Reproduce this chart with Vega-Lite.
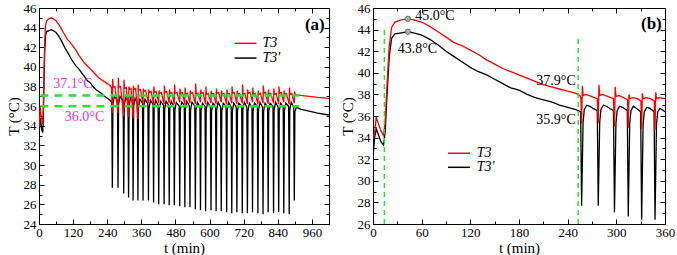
{
  "$schema": "https://vega.github.io/schema/vega-lite/v6.json",
  "padding": {"left": 5, "top": 1, "right": 0, "bottom": 0},
  "spacing": 6,
  "background": "white",
  "config": {
    "font": "Liberation Serif",
    "view": {"stroke": "#000", "strokeWidth": 1},
    "text": {"font": "Liberation Serif"},
    "axis": {
      "labelFont": "Liberation Serif", "labelFontSize": 13, "labelColor": "#000",
      "titleFont": "Liberation Serif", "titleFontSize": 15, "titleFontWeight": "normal", "titleColor": "#000",
      "domainColor": "#000", "tickColor": "#000", "tickWidth": 1, "grid": false,
      "labelFlush": false, "labelOverlap": false, "labelPadding": 8
    }
  },
  "datasets": {
    "la": [
      {"s":"T3'","t":0,"v":32.2},{"s":"T3'","t":2,"v":34.0},{"s":"T3'","t":4,"v":34.8},{"s":"T3'","t":7,"v":34.2},{"s":"T3'","t":10,"v":33.6},{"s":"T3'","t":13,"v":33.3},{"s":"T3'","t":15,"v":34.5},{"s":"T3'","t":17,"v":37.5},{"s":"T3'","t":20,"v":41.5},{"s":"T3'","t":23,"v":43.2},{"s":"T3'","t":27,"v":43.6},{"s":"T3'","t":35,"v":43.7},{"s":"T3'","t":43,"v":43.8},{"s":"T3'","t":50,"v":43.7},{"s":"T3'","t":60,"v":43.5},{"s":"T3'","t":70,"v":43.1},{"s":"T3'","t":80,"v":42.6},{"s":"T3'","t":90,"v":42.0},{"s":"T3'","t":100,"v":41.5},{"s":"T3'","t":110,"v":41.0},{"s":"T3'","t":120,"v":40.5},{"s":"T3'","t":130,"v":40.1},{"s":"T3'","t":140,"v":39.8},{"s":"T3'","t":150,"v":39.4},{"s":"T3'","t":160,"v":39.0},{"s":"T3'","t":170,"v":38.6},{"s":"T3'","t":180,"v":38.4},{"s":"T3'","t":190,"v":38.0},{"s":"T3'","t":200,"v":37.7},{"s":"T3'","t":210,"v":37.5},{"s":"T3'","t":220,"v":37.3},{"s":"T3'","t":230,"v":37.0},{"s":"T3'","t":240,"v":36.8},{"s":"T3'","t":250,"v":36.6},{"s":"T3'","t":255,"v":36.4},
      {"s":"T3'","t":256,"v":36.4},{"s":"T3'","t":258,"v":27.7},{"s":"T3'","t":260,"v":36.2},{"s":"T3'","t":265,"v":37.0},
      {"s":"T3'","t":276,"v":36.6},{"s":"T3'","t":278,"v":27.7},{"s":"T3'","t":280,"v":36.2},{"s":"T3'","t":285,"v":37.0},
      {"s":"T3'","t":296,"v":36.5},{"s":"T3'","t":298,"v":27.1},{"s":"T3'","t":300,"v":36.1},{"s":"T3'","t":305,"v":36.9},
      {"s":"T3'","t":313,"v":36.5},{"s":"T3'","t":315,"v":26.7},{"s":"T3'","t":317,"v":36.1},{"s":"T3'","t":322,"v":36.9},
      {"s":"T3'","t":329,"v":36.4},{"s":"T3'","t":331,"v":26.4},{"s":"T3'","t":333,"v":36.0},{"s":"T3'","t":338,"v":36.8},
      {"s":"T3'","t":346,"v":36.3},{"s":"T3'","t":348,"v":26.4},{"s":"T3'","t":350,"v":35.9},{"s":"T3'","t":355,"v":36.7},
      {"s":"T3'","t":364,"v":36.3},{"s":"T3'","t":366,"v":26.4},{"s":"T3'","t":368,"v":35.9},{"s":"T3'","t":373,"v":36.7},
      {"s":"T3'","t":383,"v":36.2},{"s":"T3'","t":385,"v":26.4},{"s":"T3'","t":387,"v":35.8},{"s":"T3'","t":392,"v":36.6},
      {"s":"T3'","t":401,"v":36.2},{"s":"T3'","t":403,"v":26.2},{"s":"T3'","t":405,"v":35.8},{"s":"T3'","t":410,"v":36.6},
      {"s":"T3'","t":419,"v":36.1},{"s":"T3'","t":421,"v":26.0},{"s":"T3'","t":423,"v":35.7},{"s":"T3'","t":428,"v":36.5},
      {"s":"T3'","t":438,"v":36.1},{"s":"T3'","t":440,"v":26.0},{"s":"T3'","t":442,"v":35.7},{"s":"T3'","t":447,"v":36.5},
      {"s":"T3'","t":456,"v":36.1},{"s":"T3'","t":458,"v":25.9},{"s":"T3'","t":460,"v":35.7},{"s":"T3'","t":465,"v":36.5},
      {"s":"T3'","t":474,"v":36.0},{"s":"T3'","t":476,"v":25.9},{"s":"T3'","t":478,"v":35.6},{"s":"T3'","t":483,"v":36.4},
      {"s":"T3'","t":493,"v":36.0},{"s":"T3'","t":495,"v":25.8},{"s":"T3'","t":497,"v":35.6},{"s":"T3'","t":502,"v":36.4},
      {"s":"T3'","t":511,"v":36.1},{"s":"T3'","t":513,"v":25.7},{"s":"T3'","t":515,"v":35.7},{"s":"T3'","t":520,"v":36.5},
      {"s":"T3'","t":529,"v":36.0},{"s":"T3'","t":531,"v":25.7},{"s":"T3'","t":533,"v":35.6},{"s":"T3'","t":538,"v":36.4},
      {"s":"T3'","t":548,"v":36.0},{"s":"T3'","t":550,"v":25.5},{"s":"T3'","t":552,"v":35.6},{"s":"T3'","t":557,"v":36.4},
      {"s":"T3'","t":566,"v":35.9},{"s":"T3'","t":568,"v":25.4},{"s":"T3'","t":570,"v":35.5},{"s":"T3'","t":575,"v":36.3},
      {"s":"T3'","t":584,"v":36.0},{"s":"T3'","t":586,"v":25.3},{"s":"T3'","t":588,"v":35.6},{"s":"T3'","t":593,"v":36.4},
      {"s":"T3'","t":603,"v":35.9},{"s":"T3'","t":605,"v":25.4},{"s":"T3'","t":607,"v":35.5},{"s":"T3'","t":612,"v":36.3},
      {"s":"T3'","t":621,"v":36.0},{"s":"T3'","t":623,"v":25.3},{"s":"T3'","t":625,"v":35.6},{"s":"T3'","t":630,"v":36.4},
      {"s":"T3'","t":639,"v":35.9},{"s":"T3'","t":641,"v":25.3},{"s":"T3'","t":643,"v":35.5},{"s":"T3'","t":648,"v":36.3},
      {"s":"T3'","t":658,"v":36.0},{"s":"T3'","t":660,"v":25.2},{"s":"T3'","t":662,"v":35.6},{"s":"T3'","t":667,"v":36.4},
      {"s":"T3'","t":676,"v":35.9},{"s":"T3'","t":678,"v":25.1},{"s":"T3'","t":680,"v":35.5},{"s":"T3'","t":685,"v":36.3},
      {"s":"T3'","t":694,"v":35.9},{"s":"T3'","t":696,"v":25.2},{"s":"T3'","t":698,"v":35.5},{"s":"T3'","t":703,"v":36.3},
      {"s":"T3'","t":713,"v":36.0},{"s":"T3'","t":715,"v":25.1},{"s":"T3'","t":717,"v":35.6},{"s":"T3'","t":722,"v":36.4},
      {"s":"T3'","t":731,"v":35.9},{"s":"T3'","t":733,"v":25.1},{"s":"T3'","t":735,"v":35.5},{"s":"T3'","t":740,"v":36.3},
      {"s":"T3'","t":749,"v":35.9},{"s":"T3'","t":751,"v":25.2},{"s":"T3'","t":753,"v":35.5},{"s":"T3'","t":758,"v":36.3},
      {"s":"T3'","t":768,"v":36.0},{"s":"T3'","t":770,"v":25.1},{"s":"T3'","t":772,"v":35.6},{"s":"T3'","t":777,"v":36.4},
      {"s":"T3'","t":786,"v":35.9},{"s":"T3'","t":788,"v":25.0},{"s":"T3'","t":790,"v":35.5},{"s":"T3'","t":795,"v":36.3},
      {"s":"T3'","t":804,"v":35.9},{"s":"T3'","t":806,"v":25.2},{"s":"T3'","t":808,"v":35.5},{"s":"T3'","t":813,"v":36.3},
      {"s":"T3'","t":823,"v":36.0},{"s":"T3'","t":825,"v":25.1},{"s":"T3'","t":827,"v":35.6},{"s":"T3'","t":832,"v":36.4},
      {"s":"T3'","t":841,"v":35.9},{"s":"T3'","t":843,"v":25.2},{"s":"T3'","t":845,"v":35.5},{"s":"T3'","t":850,"v":36.3},
      {"s":"T3'","t":859,"v":35.9},{"s":"T3'","t":861,"v":25.1},{"s":"T3'","t":863,"v":35.5},{"s":"T3'","t":868,"v":36.3},
      {"s":"T3'","t":878,"v":36.0},{"s":"T3'","t":880,"v":25.0},{"s":"T3'","t":882,"v":35.6},{"s":"T3'","t":887,"v":36.4},
      {"s":"T3'","t":896,"v":35.9},{"s":"T3'","t":898,"v":26.4},{"s":"T3'","t":900,"v":35.4},
      {"s":"T3'","t":905,"v":35.9},{"s":"T3'","t":920,"v":35.7},{"s":"T3'","t":950,"v":35.5},{"s":"T3'","t":980,"v":35.3},{"s":"T3'","t":1020,"v":35.1},
      {"s":"T3","t":0,"v":33.9},{"s":"T3","t":2,"v":34.5},{"s":"T3","t":4,"v":35.9},{"s":"T3","t":7,"v":35.2},{"s":"T3","t":10,"v":34.6},{"s":"T3","t":13,"v":34.2},{"s":"T3","t":15,"v":35.5},{"s":"T3","t":17,"v":38.5},{"s":"T3","t":20,"v":42.5},{"s":"T3","t":23,"v":44.2},{"s":"T3","t":27,"v":44.7},{"s":"T3","t":35,"v":44.9},{"s":"T3","t":43,"v":45.0},{"s":"T3","t":50,"v":44.9},{"s":"T3","t":60,"v":44.7},{"s":"T3","t":70,"v":44.3},{"s":"T3","t":80,"v":43.8},{"s":"T3","t":90,"v":43.3},{"s":"T3","t":100,"v":42.8},{"s":"T3","t":110,"v":42.5},{"s":"T3","t":120,"v":42.1},{"s":"T3","t":130,"v":41.7},{"s":"T3","t":140,"v":41.2},{"s":"T3","t":150,"v":40.8},{"s":"T3","t":160,"v":40.4},{"s":"T3","t":170,"v":40.1},{"s":"T3","t":180,"v":39.8},{"s":"T3","t":190,"v":39.5},{"s":"T3","t":200,"v":39.2},{"s":"T3","t":210,"v":38.9},{"s":"T3","t":220,"v":38.7},{"s":"T3","t":230,"v":38.5},{"s":"T3","t":240,"v":38.3},{"s":"T3","t":250,"v":38.1},{"s":"T3","t":255,"v":37.9},
      {"s":"T3","t":258,"v":35.3},{"s":"T3","t":259,"v":38.8},{"s":"T3","t":261,"v":37.9},{"s":"T3","t":267,"v":38.0},
      {"s":"T3","t":278,"v":35.3},{"s":"T3","t":279,"v":38.9},{"s":"T3","t":281,"v":37.9},{"s":"T3","t":287,"v":38.0},
      {"s":"T3","t":298,"v":35.0},{"s":"T3","t":299,"v":38.7},{"s":"T3","t":301,"v":37.8},{"s":"T3","t":307,"v":37.9},
      {"s":"T3","t":315,"v":34.9},{"s":"T3","t":316,"v":38.0},{"s":"T3","t":318,"v":37.7},{"s":"T3","t":324,"v":37.8},
      {"s":"T3","t":331,"v":34.8},{"s":"T3","t":332,"v":38.1},{"s":"T3","t":334,"v":37.7},{"s":"T3","t":340,"v":37.8},
      {"s":"T3","t":348,"v":34.7},{"s":"T3","t":349,"v":38.2},{"s":"T3","t":351,"v":37.6},{"s":"T3","t":357,"v":37.7},
      {"s":"T3","t":366,"v":36.2},{"s":"T3","t":367,"v":37.8},{"s":"T3","t":369,"v":37.5},{"s":"T3","t":375,"v":37.6},
      {"s":"T3","t":385,"v":36.3},{"s":"T3","t":386,"v":37.7},{"s":"T3","t":388,"v":37.4},{"s":"T3","t":394,"v":37.5},
      {"s":"T3","t":403,"v":36.2},{"s":"T3","t":404,"v":38.0},{"s":"T3","t":406,"v":37.4},{"s":"T3","t":412,"v":37.5},
      {"s":"T3","t":421,"v":36.3},{"s":"T3","t":422,"v":37.6},{"s":"T3","t":424,"v":37.3},{"s":"T3","t":430,"v":37.4},
      {"s":"T3","t":440,"v":36.2},{"s":"T3","t":441,"v":38.1},{"s":"T3","t":443,"v":37.4},{"s":"T3","t":449,"v":37.5},
      {"s":"T3","t":458,"v":36.3},{"s":"T3","t":459,"v":37.7},{"s":"T3","t":461,"v":37.3},{"s":"T3","t":467,"v":37.4},
      {"s":"T3","t":476,"v":36.2},{"s":"T3","t":477,"v":38.2},{"s":"T3","t":479,"v":37.3},{"s":"T3","t":485,"v":37.4},
      {"s":"T3","t":495,"v":36.4},{"s":"T3","t":496,"v":37.8},{"s":"T3","t":498,"v":37.3},{"s":"T3","t":504,"v":37.4},
      {"s":"T3","t":513,"v":36.2},{"s":"T3","t":514,"v":37.9},{"s":"T3","t":516,"v":37.2},{"s":"T3","t":522,"v":37.3},
      {"s":"T3","t":531,"v":36.3},{"s":"T3","t":532,"v":37.6},{"s":"T3","t":534,"v":37.3},{"s":"T3","t":540,"v":37.4},
      {"s":"T3","t":550,"v":36.2},{"s":"T3","t":551,"v":38.3},{"s":"T3","t":553,"v":37.2},{"s":"T3","t":559,"v":37.3},
      {"s":"T3","t":568,"v":36.4},{"s":"T3","t":569,"v":37.7},{"s":"T3","t":571,"v":37.3},{"s":"T3","t":577,"v":37.4},
      {"s":"T3","t":586,"v":36.2},{"s":"T3","t":587,"v":38.0},{"s":"T3","t":589,"v":37.2},{"s":"T3","t":595,"v":37.3},
      {"s":"T3","t":605,"v":36.3},{"s":"T3","t":606,"v":37.6},{"s":"T3","t":608,"v":37.2},{"s":"T3","t":614,"v":37.3},
      {"s":"T3","t":623,"v":36.2},{"s":"T3","t":624,"v":37.8},{"s":"T3","t":626,"v":37.3},{"s":"T3","t":632,"v":37.4},
      {"s":"T3","t":641,"v":36.4},{"s":"T3","t":642,"v":37.6},{"s":"T3","t":644,"v":37.2},{"s":"T3","t":650,"v":37.3},
      {"s":"T3","t":660,"v":36.2},{"s":"T3","t":661,"v":37.7},{"s":"T3","t":663,"v":37.2},{"s":"T3","t":669,"v":37.3},
      {"s":"T3","t":678,"v":36.3},{"s":"T3","t":679,"v":38.0},{"s":"T3","t":681,"v":37.3},{"s":"T3","t":687,"v":37.4},
      {"s":"T3","t":696,"v":36.2},{"s":"T3","t":697,"v":37.6},{"s":"T3","t":699,"v":37.2},{"s":"T3","t":705,"v":37.3},
      {"s":"T3","t":715,"v":36.3},{"s":"T3","t":716,"v":38.2},{"s":"T3","t":718,"v":37.2},{"s":"T3","t":724,"v":37.3},
      {"s":"T3","t":733,"v":36.2},{"s":"T3","t":734,"v":37.7},{"s":"T3","t":736,"v":37.3},{"s":"T3","t":742,"v":37.4},
      {"s":"T3","t":751,"v":36.4},{"s":"T3","t":752,"v":37.9},{"s":"T3","t":754,"v":37.2},{"s":"T3","t":760,"v":37.3},
      {"s":"T3","t":770,"v":36.2},{"s":"T3","t":771,"v":37.6},{"s":"T3","t":773,"v":37.2},{"s":"T3","t":779,"v":37.3},
      {"s":"T3","t":788,"v":36.3},{"s":"T3","t":789,"v":38.1},{"s":"T3","t":791,"v":37.3},{"s":"T3","t":797,"v":37.4},
      {"s":"T3","t":806,"v":36.2},{"s":"T3","t":807,"v":37.7},{"s":"T3","t":809,"v":37.2},{"s":"T3","t":815,"v":37.3},
      {"s":"T3","t":825,"v":36.3},{"s":"T3","t":826,"v":37.8},{"s":"T3","t":828,"v":37.2},{"s":"T3","t":834,"v":37.3},
      {"s":"T3","t":843,"v":36.2},{"s":"T3","t":844,"v":38.0},{"s":"T3","t":846,"v":37.3},{"s":"T3","t":852,"v":37.4},
      {"s":"T3","t":861,"v":36.4},{"s":"T3","t":862,"v":37.6},{"s":"T3","t":864,"v":37.2},{"s":"T3","t":870,"v":37.3},
      {"s":"T3","t":880,"v":36.2},{"s":"T3","t":881,"v":37.9},{"s":"T3","t":883,"v":37.2},{"s":"T3","t":889,"v":37.3},
      {"s":"T3","t":898,"v":36.3},{"s":"T3","t":899,"v":37.5},{"s":"T3","t":901,"v":37.2},
      {"s":"T3","t":920,"v":37.1},{"s":"T3","t":950,"v":37.0},{"s":"T3","t":980,"v":36.9},{"s":"T3","t":1020,"v":36.8}
    ],
    "lb": [
      {"s":"T3'","t":0,"v":32.2},{"s":"T3'","t":2,"v":34.0},{"s":"T3'","t":4,"v":34.8},{"s":"T3'","t":7,"v":34.2},{"s":"T3'","t":10,"v":33.6},{"s":"T3'","t":13,"v":33.3},{"s":"T3'","t":15,"v":34.5},{"s":"T3'","t":17,"v":37.5},{"s":"T3'","t":20,"v":41.5},{"s":"T3'","t":23,"v":43.2},{"s":"T3'","t":27,"v":43.6},{"s":"T3'","t":35,"v":43.7},{"s":"T3'","t":43,"v":43.8},{"s":"T3'","t":50,"v":43.7},{"s":"T3'","t":60,"v":43.5},{"s":"T3'","t":70,"v":43.1},{"s":"T3'","t":80,"v":42.6},{"s":"T3'","t":90,"v":42.0},{"s":"T3'","t":100,"v":41.5},{"s":"T3'","t":110,"v":41.0},{"s":"T3'","t":120,"v":40.5},{"s":"T3'","t":130,"v":40.1},{"s":"T3'","t":140,"v":39.8},{"s":"T3'","t":150,"v":39.4},{"s":"T3'","t":160,"v":39.0},{"s":"T3'","t":170,"v":38.6},{"s":"T3'","t":180,"v":38.4},{"s":"T3'","t":190,"v":38.0},{"s":"T3'","t":200,"v":37.7},{"s":"T3'","t":210,"v":37.5},{"s":"T3'","t":220,"v":37.3},{"s":"T3'","t":230,"v":37.0},{"s":"T3'","t":240,"v":36.8},{"s":"T3'","t":250,"v":36.6},{"s":"T3'","t":255,"v":36.4},
      {"s":"T3'","t":256,"v":36.4},{"s":"T3'","t":257.2,"v":27.7},{"s":"T3'","t":259,"v":35.4},{"s":"T3'","t":260.5,"v":36.6},{"s":"T3'","t":263.5,"v":37.0},{"s":"T3'","t":267.5,"v":36.9},{"s":"T3'","t":271.5,"v":36.7},{"s":"T3'","t":276.5,"v":36.5},
      {"s":"T3'","t":277.7,"v":27.7},{"s":"T3'","t":279.5,"v":35.4},{"s":"T3'","t":281,"v":36.6},{"s":"T3'","t":284,"v":37.0},{"s":"T3'","t":288,"v":36.9},{"s":"T3'","t":292,"v":36.7},{"s":"T3'","t":296.5,"v":36.5},
      {"s":"T3'","t":297.7,"v":27.1},{"s":"T3'","t":299.5,"v":35.3},{"s":"T3'","t":301,"v":36.5},{"s":"T3'","t":304,"v":36.9},{"s":"T3'","t":308,"v":36.8},{"s":"T3'","t":313.5,"v":36.5},
      {"s":"T3'","t":314.7,"v":26.7},{"s":"T3'","t":316.5,"v":35.3},{"s":"T3'","t":318,"v":36.5},{"s":"T3'","t":321,"v":36.9},{"s":"T3'","t":325,"v":36.7},{"s":"T3'","t":330,"v":36.4},
      {"s":"T3'","t":331.2,"v":26.4},{"s":"T3'","t":333,"v":35.2},{"s":"T3'","t":334.5,"v":36.4},{"s":"T3'","t":337.5,"v":36.8},{"s":"T3'","t":341.5,"v":36.7},{"s":"T3'","t":346.5,"v":36.4},
      {"s":"T3'","t":347.7,"v":26.4},{"s":"T3'","t":349.5,"v":35.2},{"s":"T3'","t":351,"v":36.4},{"s":"T3'","t":354,"v":36.7},{"s":"T3'","t":358,"v":36.5},{"s":"T3'","t":360,"v":36.4},
      {"s":"T3","t":0,"v":33.9},{"s":"T3","t":2,"v":34.5},{"s":"T3","t":4,"v":35.9},{"s":"T3","t":7,"v":35.2},{"s":"T3","t":10,"v":34.6},{"s":"T3","t":13,"v":34.2},{"s":"T3","t":15,"v":35.5},{"s":"T3","t":17,"v":38.5},{"s":"T3","t":20,"v":42.5},{"s":"T3","t":23,"v":44.2},{"s":"T3","t":27,"v":44.7},{"s":"T3","t":35,"v":44.9},{"s":"T3","t":43,"v":45.0},{"s":"T3","t":50,"v":44.9},{"s":"T3","t":60,"v":44.7},{"s":"T3","t":70,"v":44.3},{"s":"T3","t":80,"v":43.8},{"s":"T3","t":90,"v":43.3},{"s":"T3","t":100,"v":42.8},{"s":"T3","t":110,"v":42.5},{"s":"T3","t":120,"v":42.1},{"s":"T3","t":130,"v":41.7},{"s":"T3","t":140,"v":41.2},{"s":"T3","t":150,"v":40.8},{"s":"T3","t":160,"v":40.4},{"s":"T3","t":170,"v":40.1},{"s":"T3","t":180,"v":39.8},{"s":"T3","t":190,"v":39.5},{"s":"T3","t":200,"v":39.2},{"s":"T3","t":210,"v":38.9},{"s":"T3","t":220,"v":38.7},{"s":"T3","t":230,"v":38.5},{"s":"T3","t":240,"v":38.3},{"s":"T3","t":250,"v":38.1},{"s":"T3","t":255,"v":37.9},
      {"s":"T3","t":256.3,"v":37.7},{"s":"T3","t":257.2,"v":35.3},{"s":"T3","t":258.1,"v":38.8},{"s":"T3","t":259.1,"v":37.9},{"s":"T3","t":262.5,"v":38.0},{"s":"T3","t":270,"v":37.8},{"s":"T3","t":276.5,"v":37.6},
      {"s":"T3","t":277.7,"v":35.3},{"s":"T3","t":278.6,"v":38.9},{"s":"T3","t":279.6,"v":37.9},{"s":"T3","t":283,"v":38.0},{"s":"T3","t":290,"v":37.8},{"s":"T3","t":296.5,"v":37.6},
      {"s":"T3","t":297.7,"v":35.0},{"s":"T3","t":298.6,"v":38.7},{"s":"T3","t":299.6,"v":37.8},{"s":"T3","t":303,"v":37.9},{"s":"T3","t":309,"v":37.7},{"s":"T3","t":313.8,"v":37.5},
      {"s":"T3","t":314.7,"v":34.9},{"s":"T3","t":315.6,"v":38.0},{"s":"T3","t":316.6,"v":37.6},{"s":"T3","t":320,"v":37.7},{"s":"T3","t":326,"v":37.6},{"s":"T3","t":330.3,"v":37.4},
      {"s":"T3","t":331.2,"v":34.8},{"s":"T3","t":332.1,"v":38.1},{"s":"T3","t":333.1,"v":37.6},{"s":"T3","t":337,"v":37.7},{"s":"T3","t":342,"v":37.6},{"s":"T3","t":346.8,"v":37.4},
      {"s":"T3","t":347.7,"v":34.7},{"s":"T3","t":348.6,"v":38.2},{"s":"T3","t":349.6,"v":37.6},{"s":"T3","t":353,"v":37.7},{"s":"T3","t":360,"v":37.6}
    ]
  },
  "hconcat": [
    {
      "width": 290, "height": 216,
      "layer": [
        {
          "data": {"name": "la"},
          "mark": {"type": "line", "strokeWidth": 1.3, "clip": true},
          "encoding": {
            "x": {"field": "t", "type": "quantitative", "scale": {"domain": [0, 1020], "nice": false, "zero": false},
              "axis": {"title": "t (min)", "values": [0,60,120,180,240,300,360,420,480,540,600,660,720,780,840,900,960],
                "labelExpr": "datum.value % 120 === 0 ? datum.label : ''",
                "tickSize": {"condition": {"test": "datum.value % 120 === 0", "value": -5}, "value": -3}, "labelPadding": 7, "titlePadding": -1}},
            "y": {"field": "v", "type": "quantitative", "scale": {"domain": [24, 46], "nice": false, "zero": false},
              "axis": {"title": "T (°C)", "values": [24,25,26,27,28,29,30,31,32,33,34,35,36,37,38,39,40,41,42,43,44,45,46],
                "labelExpr": "datum.value % 2 === 0 ? datum.label : ''",
                "tickSize": {"condition": {"test": "datum.value % 2 === 0", "value": -5}, "value": -3}, "labelPadding": 8, "titlePadding": 2}},
            "color": {"field": "s", "type": "nominal", "scale": {"domain": ["T3", "T3'"], "range": ["#ff0000", "#000000"]}, "legend": null}
          }
        },
        {
          "data": {"values": [{"t": 0, "v": 24}, {"t": 1020, "v": 46}]},
          "mark": {"type": "point", "opacity": 0},
          "encoding": {
            "x": {"field": "t", "type": "quantitative",
              "axis": {"orient": "top", "labels": false, "title": null, "values": [0,60,120,180,240,300,360,420,480,540,600,660,720,780,840,900,960],
                "tickSize": {"condition": {"test": "datum.value % 120 === 0", "value": -5}, "value": -3}}},
            "y": {"field": "v", "type": "quantitative",
              "axis": {"orient": "right", "labels": false, "title": null, "values": [24,25,26,27,28,29,30,31,32,33,34,35,36,37,38,39,40,41,42,43,44,45,46],
                "tickSize": {"condition": {"test": "datum.value % 2 === 0", "value": -5}, "value": -3}}}
          }
        },
        {
          "data": {"values": [{"t0": 5, "t1": 915, "v": 37.1}, {"t0": 5, "t1": 915, "v": 36.0}]},
          "mark": {"type": "rule", "color": "#33dd33", "strokeWidth": 2.5, "strokeDash": [8, 6]},
          "encoding": {
            "x": {"field": "t0", "type": "quantitative", "axis": null},
            "x2": {"field": "t1"},
            "y": {"field": "v", "type": "quantitative", "axis": null}
          }
        },
        {
          "data": {"values": [{"s": "T3", "t0": 688, "t1": 765, "v": 42.4}, {"s": "T3'", "t0": 688, "t1": 765, "v": 40.9}]},
          "mark": {"type": "rule", "strokeWidth": 1.5},
          "encoding": {
            "x": {"field": "t0", "type": "quantitative", "axis": null},
            "x2": {"field": "t1"},
            "y": {"field": "v", "type": "quantitative", "axis": null},
            "color": {"field": "s", "type": "nominal", "legend": null}
          }
        },
        {
          "data": {"values": [{"s": "T3", "t": 786, "v": 42.4}, {"s": "T3'", "t": 786, "v": 40.9}]},
          "mark": {"type": "text", "align": "left", "baseline": "middle", "fontSize": 14, "fontStyle": "italic", "color": "#000", "font": "Liberation Serif"},
          "encoding": {
            "x": {"field": "t", "type": "quantitative", "axis": null},
            "y": {"field": "v", "type": "quantitative", "axis": null},
            "text": {"field": "s"}
          }
        },
        {
          "data": {"values": [{"txt": "37.1°C", "t": 50, "v": 38.3}, {"txt": "36.0°C", "t": 91, "v": 34.85}]},
          "mark": {"type": "text", "align": "left", "baseline": "middle", "fontSize": 14, "color": "#e033e0", "font": "Liberation Serif"},
          "encoding": {
            "x": {"field": "t", "type": "quantitative", "axis": null},
            "y": {"field": "v", "type": "quantitative", "axis": null},
            "text": {"field": "txt"}
          }
        },
        {
          "data": {"values": [{"txt": "(a)", "t": 1005, "v": 44.26}]},
          "mark": {"type": "text", "align": "right", "baseline": "middle", "fontSize": 17, "fontWeight": "bold", "color": "#000", "font": "Liberation Serif"},
          "encoding": {
            "x": {"field": "t", "type": "quantitative", "axis": null},
            "y": {"field": "v", "type": "quantitative", "axis": null},
            "text": {"field": "txt"}
          }
        }
      ],
      "resolve": {"axis": {"x": "independent", "y": "independent"}}
    },
    {
      "width": 292, "height": 216,
      "layer": [
        {
          "data": {"name": "lb"},
          "mark": {"type": "line", "strokeWidth": 1.3, "clip": true},
          "encoding": {
            "x": {"field": "t", "type": "quantitative", "scale": {"domain": [0, 360], "nice": false, "zero": false},
              "axis": {"title": "t (min)", "values": [0,30,60,90,120,150,180,210,240,270,300,330,360],
                "labelExpr": "datum.value % 60 === 0 ? datum.label : ''",
                "tickSize": {"condition": {"test": "datum.value % 60 === 0", "value": -5}, "value": -3}, "labelPadding": 7, "titlePadding": -1}},
            "y": {"field": "v", "type": "quantitative", "scale": {"domain": [26, 46], "nice": false, "zero": false},
              "axis": {"title": "T (°C)", "values": [26,27,28,29,30,31,32,33,34,35,36,37,38,39,40,41,42,43,44,45,46],
                "labelExpr": "datum.value % 2 === 0 ? datum.label : ''",
                "tickSize": {"condition": {"test": "datum.value % 2 === 0", "value": -5}, "value": -3}, "labelPadding": 8, "titlePadding": 2}},
            "color": {"field": "s", "type": "nominal", "scale": {"domain": ["T3", "T3'"], "range": ["#ff0000", "#000000"]}, "legend": null}
          }
        },
        {
          "data": {"values": [{"t": 0, "v": 26}, {"t": 360, "v": 46}]},
          "mark": {"type": "point", "opacity": 0},
          "encoding": {
            "x": {"field": "t", "type": "quantitative",
              "axis": {"orient": "top", "labels": false, "title": null, "values": [0,30,60,90,120,150,180,210,240,270,300,330,360],
                "tickSize": {"condition": {"test": "datum.value % 60 === 0", "value": -5}, "value": -3}}},
            "y": {"field": "v", "type": "quantitative",
              "axis": {"orient": "right", "labels": false, "title": null, "values": [26,27,28,29,30,31,32,33,34,35,36,37,38,39,40,41,42,43,44,45,46],
                "tickSize": {"condition": {"test": "datum.value % 2 === 0", "value": -5}, "value": -3}}}
          }
        },
        {
          "data": {"values": [{"t": 14, "v0": 26, "v1": 44.3}, {"t": 253, "v0": 26, "v1": 43.3}]},
          "mark": {"type": "rule", "color": "#33dd33", "strokeWidth": 1.5, "strokeDash": [5, 4]},
          "encoding": {
            "x": {"field": "t", "type": "quantitative", "axis": null},
            "y": {"field": "v0", "type": "quantitative", "axis": null},
            "y2": {"field": "v1"}
          }
        },
        {
          "data": {"values": [{"t": 43, "v": 45.0}, {"t": 43, "v": 43.8}]},
          "mark": {"type": "point", "shape": "circle", "size": 28, "filled": true, "fill": "#b0b0b0", "stroke": "#555555", "strokeWidth": 0.8, "opacity": 1},
          "encoding": {
            "x": {"field": "t", "type": "quantitative", "axis": null},
            "y": {"field": "v", "type": "quantitative", "axis": null}
          }
        },
        {
          "data": {"values": [{"s": "T3", "t0": 92.5, "t1": 119.6, "v": 32.55}, {"s": "T3'", "t0": 92.5, "t1": 119.6, "v": 31.25}]},
          "mark": {"type": "rule", "strokeWidth": 1.5},
          "encoding": {
            "x": {"field": "t0", "type": "quantitative", "axis": null},
            "x2": {"field": "t1"},
            "y": {"field": "v", "type": "quantitative", "axis": null},
            "color": {"field": "s", "type": "nominal", "legend": null}
          }
        },
        {
          "data": {"values": [{"s": "T3", "t": 128, "v": 32.55}, {"s": "T3'", "t": 128, "v": 31.25}]},
          "mark": {"type": "text", "align": "left", "baseline": "middle", "fontSize": 14, "fontStyle": "italic", "color": "#000", "font": "Liberation Serif"},
          "encoding": {
            "x": {"field": "t", "type": "quantitative", "axis": null},
            "y": {"field": "v", "type": "quantitative", "axis": null},
            "text": {"field": "s"}
          }
        },
        {
          "data": {"values": [{"txt": "45.0°C", "t": 52, "v": 45.26}, {"txt": "43.8°C", "t": 30.5, "v": 42.2}]},
          "mark": {"type": "text", "align": "left", "baseline": "middle", "fontSize": 14, "color": "#000", "font": "Liberation Serif"},
          "encoding": {
            "x": {"field": "t", "type": "quantitative", "axis": null},
            "y": {"field": "v", "type": "quantitative", "axis": null},
            "text": {"field": "txt"}
          }
        },
        {
          "data": {"values": [{"txt": "37.9°C", "t": 250, "v": 39.2}, {"txt": "35.9°C", "t": 250, "v": 35.6}]},
          "mark": {"type": "text", "align": "right", "baseline": "middle", "fontSize": 14, "color": "#000", "font": "Liberation Serif"},
          "encoding": {
            "x": {"field": "t", "type": "quantitative", "axis": null},
            "y": {"field": "v", "type": "quantitative", "axis": null},
            "text": {"field": "txt"}
          }
        },
        {
          "data": {"values": [{"txt": "(b)", "t": 356, "v": 44.55}]},
          "mark": {"type": "text", "align": "right", "baseline": "middle", "fontSize": 17, "fontWeight": "bold", "color": "#000", "font": "Liberation Serif"},
          "encoding": {
            "x": {"field": "t", "type": "quantitative", "axis": null},
            "y": {"field": "v", "type": "quantitative", "axis": null},
            "text": {"field": "txt"}
          }
        }
      ],
      "resolve": {"axis": {"x": "independent", "y": "independent"}}
    }
  ]
}
